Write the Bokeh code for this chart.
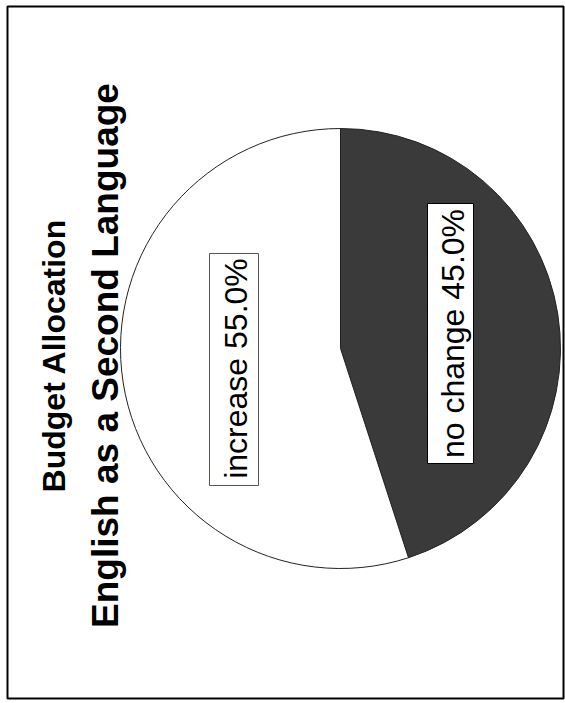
import math
from bokeh.plotting import figure
from bokeh.models import Range1d, ColumnDataSource
from bokeh.core.properties import value
from bokeh.embed import file_html
from bokeh.resources import INLINE

# ---- data ----
title_line1 = "Budget Allocation"
title_line2 = "English as a Second Language"
categories = ["no change", "increase"]
percents = [45.0, 55.0]
slice_colors = ["#3a3a3a", "#ffffff"]

W, H = 565, 703
p = figure(width=W, height=H, output_backend="svg", toolbar_location=None,
           x_range=Range1d(0, W), y_range=Range1d(0, H), min_border=0)
p.axis.visible = False
p.grid.visible = False
p.outline_line_color = None
p.background_fill_color = "white"

def X(px):
    return px
def Y(py):
    return H - py

# outer frame of the printed page
p.quad(left=[X(7)], right=[X(563)], top=[Y(6)], bottom=[Y(698)],
       fill_color=None, line_color="black", line_width=2)

# pie (chart is printed rotated 90 degrees)
cx, cy, r = X(340), Y(348), 220
total = sum(percents)
a = math.pi / 2
nc = percents[0] / total * 2 * math.pi
starts = [a - nc, a]
ends = [a, a - nc + 2 * math.pi]
src = ColumnDataSource(dict(x=[cx, cx], y=[cy, cy], start=starts, end=ends,
                            color=slice_colors, cat=categories))
p.wedge(x="x", y="y", radius=r, start_angle="start", end_angle="end",
        fill_color="color", line_color="#222222", line_width=1, source=src)

# label boxes
labels = [f"{c} {v:.1f}%" for c, v in zip(categories, percents)]
box_x = [X(450), X(233.5)]
box_y = [Y(333), Y(369)]
box_w = [46, 49]
box_h = [260, 232]
p.rect(x=box_x, y=box_y, width=box_w, height=box_h, fill_color="white",
       line_color=["black", "#555555"], line_width=1)
p.text(x=[X(452), X(235.5)], y=[Y(333), Y(368)], text=labels, angle=math.pi / 2,
       text_align="center", text_baseline="middle", text_font=value("Liberation Sans"),
       text_font_size="32px", text_color="black")

# titles (rotated)
p.text(x=[X(53)], y=[Y(355)], text=[title_line1], angle=math.pi / 2,
       text_align="center", text_baseline="alphabetic", text_font=value("Liberation Sans"),
       text_font_style="bold", text_font_size="32px", text_color="black")
p.text(x=[X(105)], y=[Y(355)], text=[title_line2], angle=math.pi / 2,
       text_align="center", text_baseline="alphabetic", text_font=value("Liberation Sans"),
       text_font_style="bold", text_font_size="37px", text_color="black")

open("out.html", "w").write(file_html(p, INLINE))
